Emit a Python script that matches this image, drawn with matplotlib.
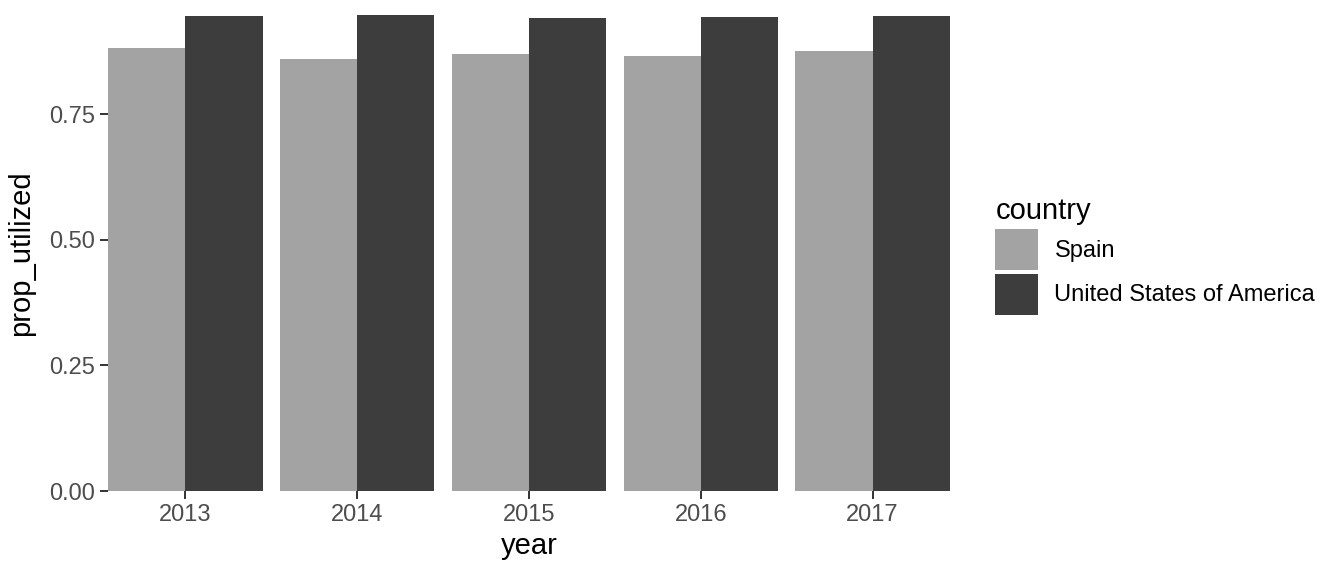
import numpy as np
import matplotlib.pyplot as plt
from matplotlib.patches import Patch

plt.rcParams['font.family'] = ['Liberation Sans', 'DejaVu Sans']

years = [2013, 2014, 2015, 2016, 2017]
countries = ['Spain', 'United States of America']
spain = [0.881, 0.859, 0.869, 0.865, 0.875]
usa = [0.945, 0.947, 0.941, 0.943, 0.945]
colors = ['#A3A3A3', '#3D3D3D']

fig = plt.figure(figsize=(13.44, 5.76), dpi=100)
ax = fig.add_axes([108/1344, 85/576, 842/1344, 476/576])

x = np.array(years)
w = 0.45
ax.bar(x - w/2, spain, width=w, color=colors[0], label=countries[0])
ax.bar(x + w/2, usa, width=w, color=colors[1], label=countries[1])

ax.set_xlim(x[0] - 0.45, x[-1] + 0.45)
ax.set_ylim(0, max(max(spain), max(usa)))
ax.set_xticks(x)
ax.set_xticklabels([str(y) for y in years])
ax.set_yticks([0, 0.25, 0.5, 0.75])
ax.set_yticklabels(['0.00', '0.25', '0.50', '0.75'])

for s in ax.spines.values():
    s.set_visible(False)
ax.tick_params(axis='both', length=5.5, width=1.4, color='#333333',
               labelcolor='#4D4D4D', labelsize=17, pad=4)

ax.set_xlabel('year', fontsize=21, color='black', labelpad=4)
ax.set_ylabel('prop_utilized', fontsize=21, color='black', labelpad=10)

handles = [Patch(facecolor=c, edgecolor='none') for c in colors]
leg = fig.legend(handles, countries, loc='center left',
                 bbox_to_anchor=(986/1344, (576 - 256)/576), frameon=False,
                 fontsize=17, title='country', title_fontsize=21,
                 handlelength=1.8, handleheight=2.3, labelspacing=0.15,
                 handletextpad=0.7, borderaxespad=0)
leg._legend_box.align = 'left'

fig.savefig('out.png', dpi=100)
